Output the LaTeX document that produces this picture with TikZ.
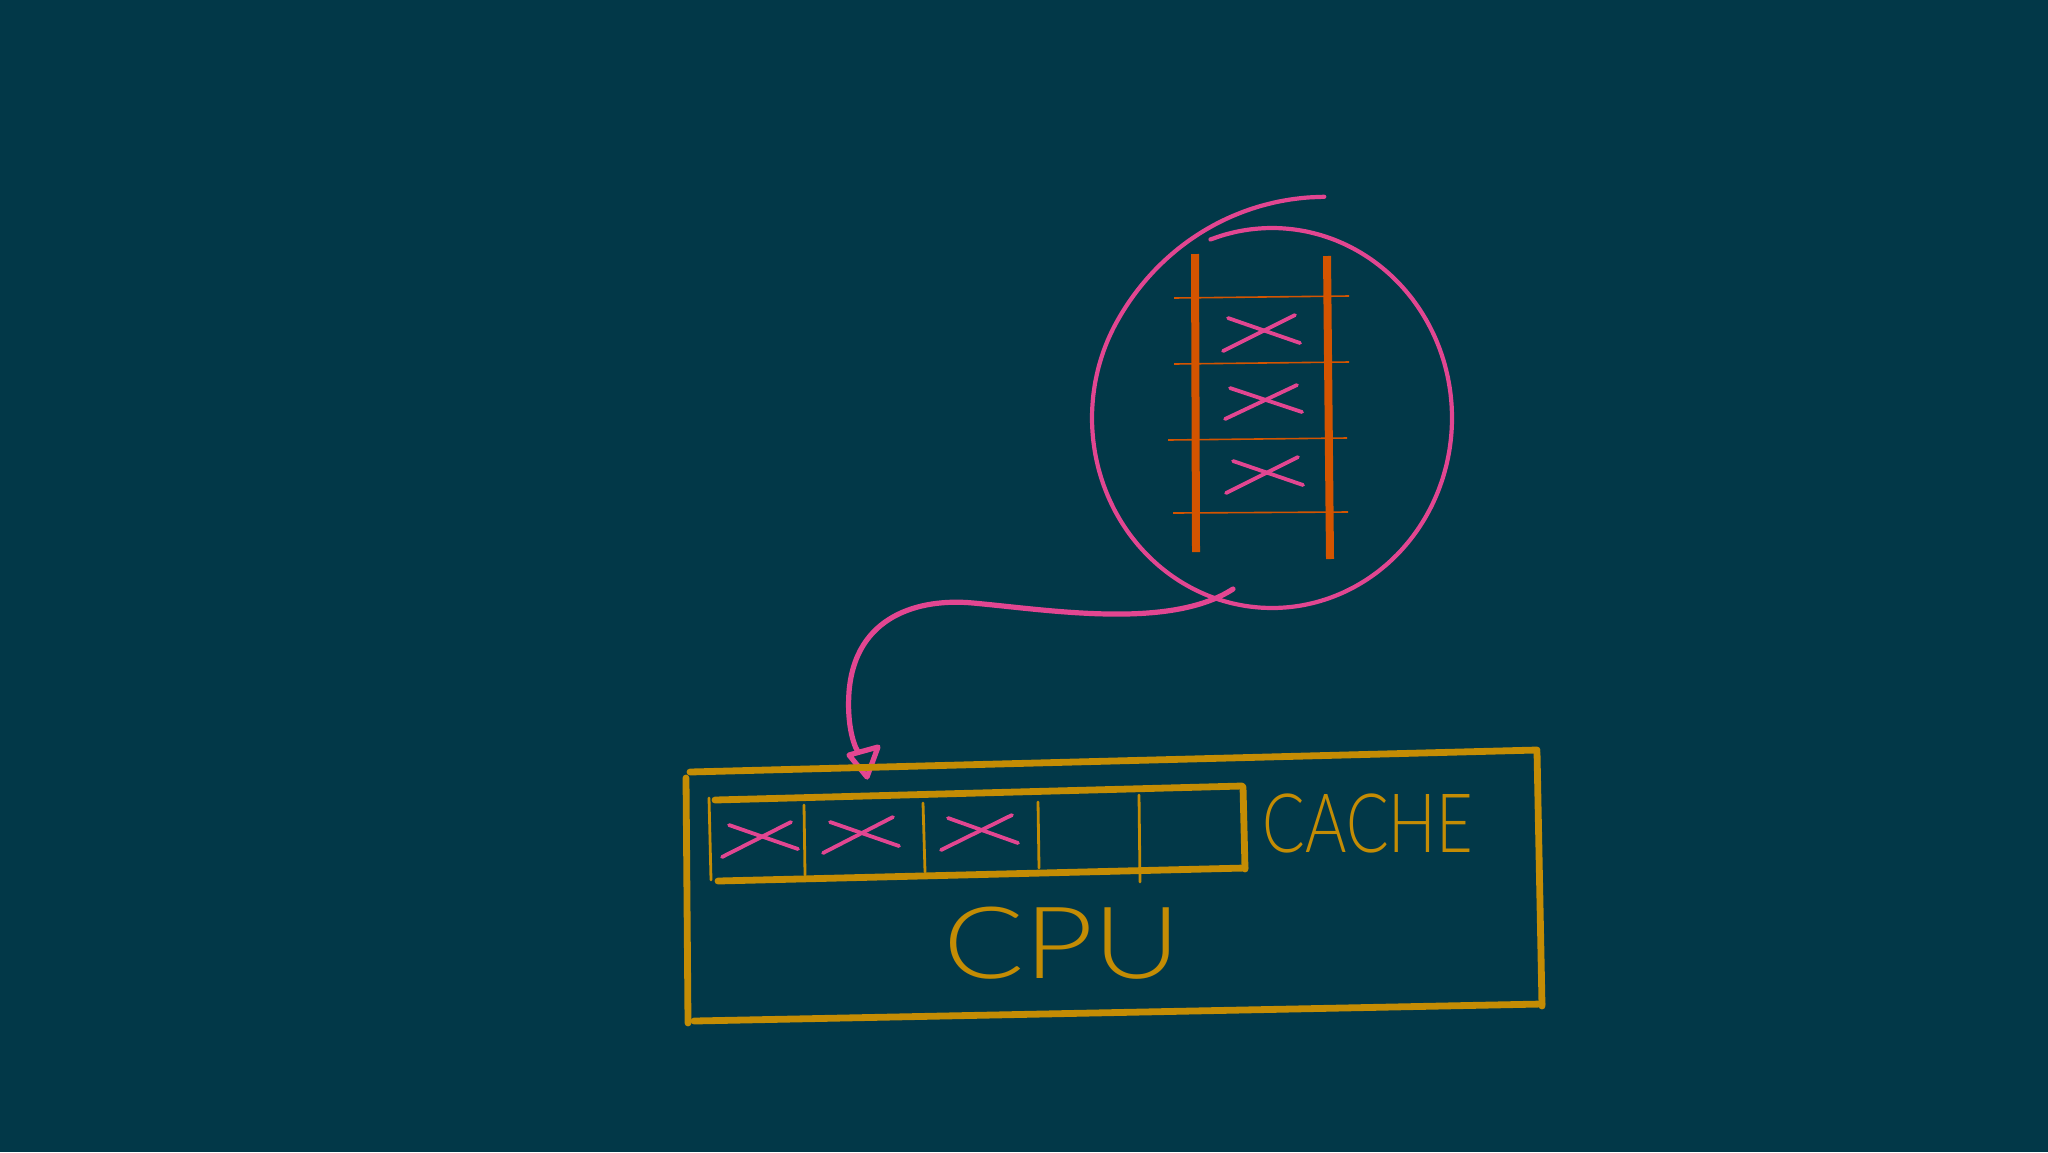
\documentclass[tikz,border=0pt]{standalone}
\usepackage{fontspec}
\newfontfamily\handfont{Lato Light}
\definecolor{bgc}{RGB}{2,56,72}
\definecolor{goldc}{RGB}{196,140,4}
\definecolor{pinkc}{RGB}{226,70,145}
\definecolor{orangec}{RGB}{212,84,0}
\tikzset{
  frame/.style={draw=goldc, line width=3.4pt, line cap=round},
  thinframe/.style={draw=goldc, line width=1.4pt, line cap=round},
  cross/.style={draw=pinkc, line width=1.9pt, line cap=round},
  rail/.style={draw=orangec, line width=4pt},
  rung/.style={draw=orangec, line width=0.8pt},
  loop/.style={draw=pinkc, line width=2.1pt, line cap=round, line join=round},
  arrowline/.style={draw=pinkc, line width=2.6pt, line cap=round, line join=round},
  label/.style={text=goldc, inner sep=0pt}
}
\begin{document}
\begin{tikzpicture}[x=0.5pt, y=-0.5pt]
\fill[bgc] (0,0) rectangle (2048,1152);
\useasboundingbox (0,0) rectangle (2048,1152);

% ladder (memory)
\draw[rung] (1174,298) -- (1349,296);
\draw[rung] (1174,364) -- (1349,362);
\draw[rung] (1168,440) -- (1347,438);
\draw[rung] (1173,513) -- (1348,512);
\draw[rail] (1195,254) -- (1196,552);
\draw[rail] (1327,256) -- (1330,559);
\draw[cross] (1223,351) -- (1295,315);
\draw[cross] (1228,318) -- (1300,343);
\draw[cross] (1225,419) -- (1297,385);
\draw[cross] (1230,388) -- (1302,412);
\draw[cross] (1226,493) -- (1298,457);
\draw[cross] (1233,461) -- (1303,485);

% circle around ladder
\draw[loop] plot[smooth, domain=250:644, samples=90, variable=\t]
  ({1272+180*(1+0.2*(max(0,(\t-570)/74))^2)*cos(\t)},
   {418+190*(1+0.2*(max(0,(\t-570)/74))^2)*sin(\t)});

% arrow from circle to cache
\coordinate (astart) at (1233,589);
\coordinate (aend) at (858,752);
\draw[arrowline] (astart) .. controls (1170,630) and (1050,610) .. (973,603)
  .. controls (920,598) and (855,615) .. (849,692)
  .. controls (847,720) and (852,742) .. (aend);
\draw[arrowline] (849,755) -- (878,747) -- (867,777) -- cycle;

% CPU box
\draw[frame] (690,772) -- (1537,750);
\draw[frame] (694,1021) -- (1542,1004);
\draw[frame] (686,778) -- (688,1023);
\draw[frame] (1537,752) -- (1542,1006);
\node[label] (cpu) at (1062,943) {\scalebox{1.2}[1]{\handfont\fontsize{50}{52}\selectfont CPU}};

% cache box
\draw[frame] (715,800) -- (1242,786);
\draw[frame] (718,881) -- (1245,868);
\draw[frame] (1243,787) -- (1245,869);
\draw[thinframe] (709,798) -- (711,880);
\draw[thinframe] (804,805) -- (805,875);
\draw[thinframe] (923,803) -- (925,872);
\draw[thinframe] (1038,802) -- (1039,868);
\draw[thinframe] (1139,795) -- (1140,882);
\draw[cross] (722,857) -- (791,822);
\draw[cross] (729,825) -- (798,849);
\draw[cross] (823,853) -- (893,817);
\draw[cross] (830,822) -- (899,846);
\draw[cross] (941,850) -- (1012,815);
\draw[cross] (948,818) -- (1018,843);
\node[label] (cache) at (1368,823) {\scalebox{0.77}[1]{\handfont\fontsize{41}{43}\selectfont CACHE}};
\end{tikzpicture}
\end{document}
